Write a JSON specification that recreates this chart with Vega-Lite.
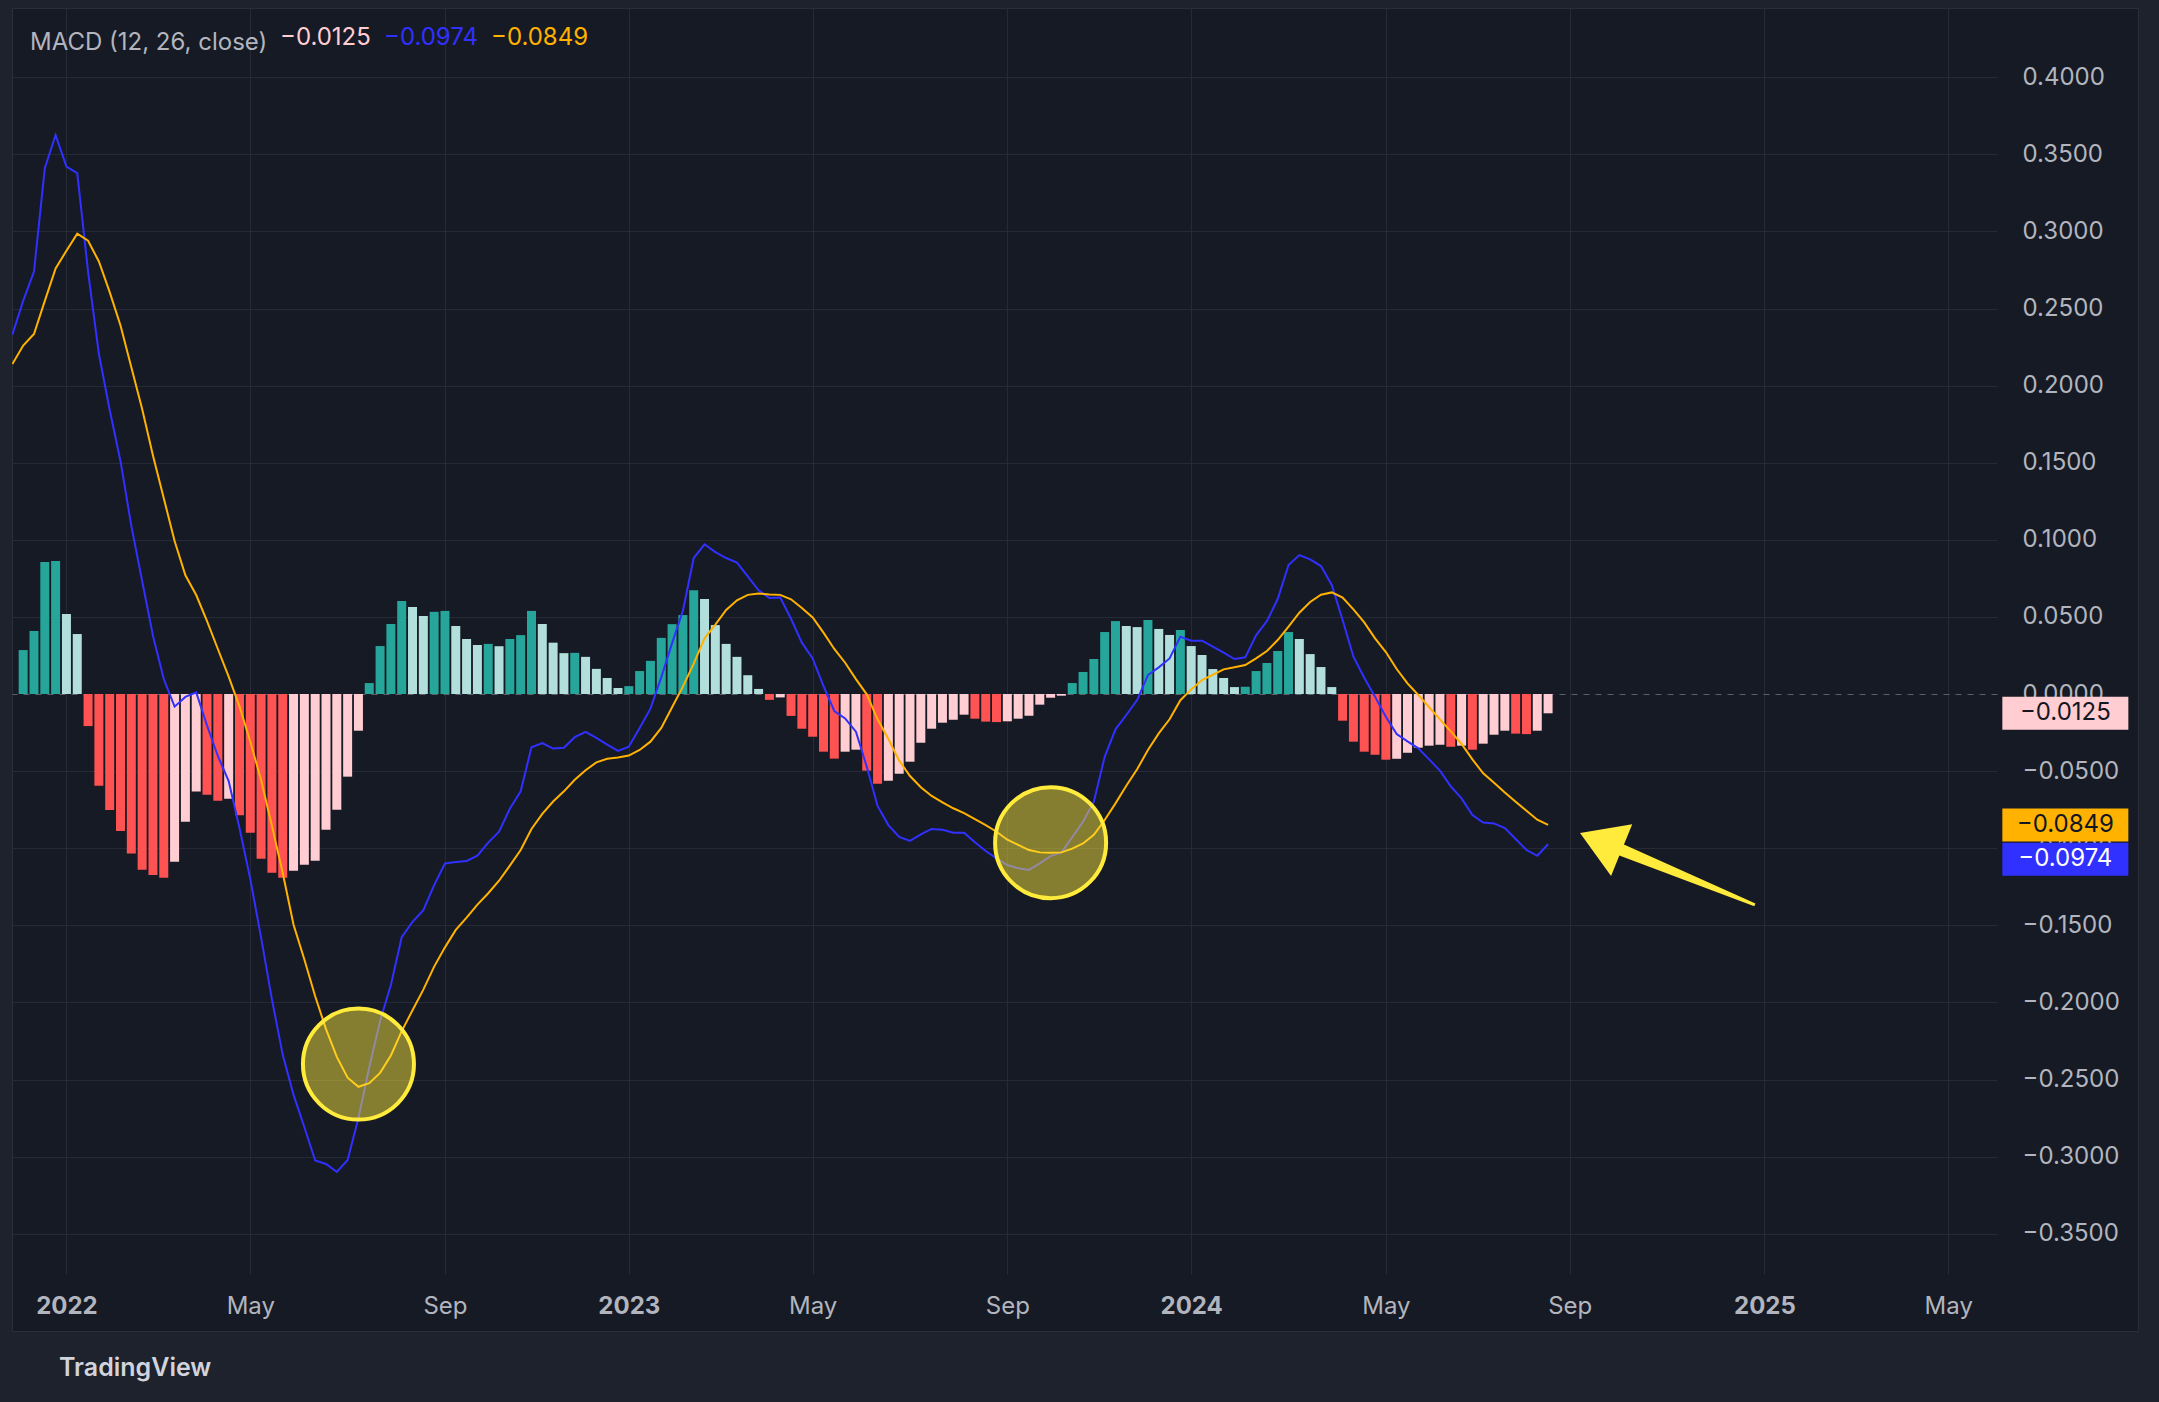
{
  "$schema": "https://vega.github.io/schema/vega-lite/v6.json",
  "width": 2126,
  "height": 1323,
  "autosize": {"type": "none"},
  "padding": {"left": 12, "top": 8, "right": 21, "bottom": 71},
  "background": "#1e222d",
  "config": {
    "view": {"fill": "#161a25", "stroke": "#2a2e39", "strokeWidth": 1},
    "font": "Inter"
  },
  "title": {
    "text": "TradingView",
    "orient": "bottom",
    "anchor": "start",
    "frame": "group",
    "offset": 25,
    "dx": 47,
    "font": "Inter",
    "fontSize": 25,
    "fontWeight": 600,
    "color": "#d1d4dc"
  },
  "data": {
    "values": [
      {"date": "2021-11-29", "hist": null, "macd": 0.233, "signal": 0.214},
      {"date": "2021-12-06", "hist": 0.0285, "macd": 0.255, "signal": 0.226},
      {"date": "2021-12-13", "hist": 0.0409, "macd": 0.274, "signal": 0.2335},
      {"date": "2021-12-20", "hist": 0.0856, "macd": 0.341, "signal": 0.255},
      {"date": "2021-12-27", "hist": 0.0862, "macd": 0.3625, "signal": 0.276},
      {"date": "2022-01-03", "hist": 0.0519, "macd": 0.342, "signal": 0.2875},
      {"date": "2022-01-10", "hist": 0.0389, "macd": 0.3378, "signal": 0.2985},
      {"date": "2022-01-17", "hist": -0.0208, "macd": 0.274, "signal": 0.294},
      {"date": "2022-01-24", "hist": -0.0595, "macd": 0.2205, "signal": 0.2805},
      {"date": "2022-01-31", "hist": -0.0752, "macd": 0.1842, "signal": 0.2606},
      {"date": "2022-02-07", "hist": -0.0888, "macd": 0.151, "signal": 0.239},
      {"date": "2022-02-14", "hist": -0.1035, "macd": 0.109, "signal": 0.2119},
      {"date": "2022-02-21", "hist": -0.1139, "macd": 0.0733, "signal": 0.1849},
      {"date": "2022-02-28", "hist": -0.1174, "macd": 0.0378, "signal": 0.1547},
      {"date": "2022-03-07", "hist": -0.1191, "macd": 0.0097, "signal": 0.127},
      {"date": "2022-03-14", "hist": -0.1087, "macd": -0.0082, "signal": 0.0992},
      {"date": "2022-03-21", "hist": -0.0828, "macd": -0.0019, "signal": 0.077},
      {"date": "2022-03-28", "hist": -0.0633, "macd": 0.0011, "signal": 0.0642},
      {"date": "2022-04-04", "hist": -0.0653, "macd": -0.0204, "signal": 0.0473},
      {"date": "2022-04-11", "hist": -0.0692, "macd": -0.0402, "signal": 0.0292},
      {"date": "2022-04-18", "hist": -0.0679, "macd": -0.0564, "signal": 0.0113},
      {"date": "2022-04-25", "hist": -0.0787, "macd": -0.0869, "signal": -0.008},
      {"date": "2022-05-02", "hist": -0.0899, "macd": -0.12, "signal": -0.031},
      {"date": "2022-05-09", "hist": -0.1068, "macd": -0.158, "signal": -0.0558},
      {"date": "2022-05-16", "hist": -0.1159, "macd": -0.198, "signal": -0.0856},
      {"date": "2022-05-23", "hist": -0.1191, "macd": -0.234, "signal": -0.1161},
      {"date": "2022-05-30", "hist": -0.1146, "macd": -0.26, "signal": -0.1496},
      {"date": "2022-06-06", "hist": -0.1107, "macd": -0.281, "signal": -0.1722},
      {"date": "2022-06-13", "hist": -0.1081, "macd": -0.3025, "signal": -0.196},
      {"date": "2022-06-20", "hist": -0.088, "macd": -0.3048, "signal": -0.2173},
      {"date": "2022-06-27", "hist": -0.075, "macd": -0.31, "signal": -0.2353},
      {"date": "2022-07-04", "hist": -0.0536, "macd": -0.3022, "signal": -0.2488},
      {"date": "2022-07-11", "hist": -0.0238, "macd": -0.275, "signal": -0.2547},
      {"date": "2022-07-18", "hist": 0.0071, "macd": -0.242, "signal": -0.2524},
      {"date": "2022-07-25", "hist": 0.0311, "macd": -0.212, "signal": -0.2457},
      {"date": "2022-08-01", "hist": 0.0454, "macd": -0.1887, "signal": -0.2344},
      {"date": "2022-08-08", "hist": 0.0603, "macd": -0.1577, "signal": -0.2186},
      {"date": "2022-08-15", "hist": 0.0564, "macd": -0.1477, "signal": -0.2051},
      {"date": "2022-08-22", "hist": 0.0506, "macd": -0.1402, "signal": -0.1917},
      {"date": "2022-08-29", "hist": 0.0533, "macd": -0.1239, "signal": -0.1768},
      {"date": "2022-09-05", "hist": 0.0539, "macd": -0.1099, "signal": -0.1643},
      {"date": "2022-09-12", "hist": 0.0441, "macd": -0.109, "signal": -0.153},
      {"date": "2022-09-19", "hist": 0.0357, "macd": -0.1083, "signal": -0.145},
      {"date": "2022-09-26", "hist": 0.0318, "macd": -0.1048, "signal": -0.1366},
      {"date": "2022-10-03", "hist": 0.0325, "macd": -0.0964, "signal": -0.1292},
      {"date": "2022-10-10", "hist": 0.031, "macd": -0.0893, "signal": -0.1211},
      {"date": "2022-10-17", "hist": 0.0357, "macd": -0.0744, "signal": -0.1113},
      {"date": "2022-10-24", "hist": 0.0382, "macd": -0.0631, "signal": -0.1012},
      {"date": "2022-10-31", "hist": 0.0539, "macd": -0.0345, "signal": -0.0875},
      {"date": "2022-11-07", "hist": 0.0454, "macd": -0.0318, "signal": -0.0777},
      {"date": "2022-11-14", "hist": 0.0333, "macd": -0.0354, "signal": -0.0697},
      {"date": "2022-11-21", "hist": 0.0265, "macd": -0.0348, "signal": -0.0631},
      {"date": "2022-11-28", "hist": 0.0267, "macd": -0.028, "signal": -0.0556},
      {"date": "2022-12-05", "hist": 0.0241, "macd": -0.0246, "signal": -0.0494},
      {"date": "2022-12-12", "hist": 0.0163, "macd": -0.0285, "signal": -0.0443},
      {"date": "2022-12-19", "hist": 0.0104, "macd": -0.0328, "signal": -0.042},
      {"date": "2022-12-26", "hist": 0.0039, "macd": -0.0369, "signal": -0.0411},
      {"date": "2023-01-02", "hist": 0.0051, "macd": -0.0342, "signal": -0.0399},
      {"date": "2023-01-09", "hist": 0.0149, "macd": -0.022, "signal": -0.0363},
      {"date": "2023-01-16", "hist": 0.0215, "macd": -0.0095, "signal": -0.0309},
      {"date": "2023-01-23", "hist": 0.0364, "macd": 0.0108, "signal": -0.022},
      {"date": "2023-01-30", "hist": 0.0453, "macd": 0.033, "signal": -0.0086},
      {"date": "2023-02-06", "hist": 0.0512, "macd": 0.0539, "signal": 0.0048},
      {"date": "2023-02-13", "hist": 0.0673, "macd": 0.0882, "signal": 0.0197},
      {"date": "2023-02-20", "hist": 0.0617, "macd": 0.0971, "signal": 0.0361},
      {"date": "2023-02-27", "hist": 0.0447, "macd": 0.092, "signal": 0.045},
      {"date": "2023-03-06", "hist": 0.0325, "macd": 0.0882, "signal": 0.0545},
      {"date": "2023-03-13", "hist": 0.0241, "macd": 0.0852, "signal": 0.0608},
      {"date": "2023-03-20", "hist": 0.0122, "macd": 0.0763, "signal": 0.0643},
      {"date": "2023-03-27", "hist": 0.0033, "macd": 0.0673, "signal": 0.0652},
      {"date": "2023-04-03", "hist": -0.0038, "macd": 0.0623, "signal": 0.0646},
      {"date": "2023-04-10", "hist": -0.0022, "macd": 0.0626, "signal": 0.0643},
      {"date": "2023-04-17", "hist": -0.0142, "macd": 0.0488, "signal": 0.0614},
      {"date": "2023-04-24", "hist": -0.0225, "macd": 0.0333, "signal": 0.0558},
      {"date": "2023-05-01", "hist": -0.0277, "macd": 0.0231, "signal": 0.0497},
      {"date": "2023-05-08", "hist": -0.0374, "macd": 0.0052, "signal": 0.0398},
      {"date": "2023-05-15", "hist": -0.0419, "macd": -0.011, "signal": 0.0292},
      {"date": "2023-05-22", "hist": -0.0374, "macd": -0.0158, "signal": 0.0203},
      {"date": "2023-05-29", "hist": -0.0361, "macd": -0.0244, "signal": 0.0097},
      {"date": "2023-06-05", "hist": -0.0497, "macd": -0.0471, "signal": -0.0002},
      {"date": "2023-06-12", "hist": -0.0582, "macd": -0.0726, "signal": -0.0164},
      {"date": "2023-06-19", "hist": -0.0562, "macd": -0.085, "signal": -0.0292},
      {"date": "2023-06-26", "hist": -0.0517, "macd": -0.0927, "signal": -0.0432},
      {"date": "2023-07-03", "hist": -0.0439, "macd": -0.0953, "signal": -0.0532},
      {"date": "2023-07-10", "hist": -0.0316, "macd": -0.091, "signal": -0.0605},
      {"date": "2023-07-17", "hist": -0.0225, "macd": -0.0875, "signal": -0.0661},
      {"date": "2023-07-24", "hist": -0.0186, "macd": -0.088, "signal": -0.0702},
      {"date": "2023-07-31", "hist": -0.0167, "macd": -0.0899, "signal": -0.0741},
      {"date": "2023-08-07", "hist": -0.0134, "macd": -0.0899, "signal": -0.0772},
      {"date": "2023-08-14", "hist": -0.016, "macd": -0.0962, "signal": -0.0811},
      {"date": "2023-08-21", "hist": -0.0179, "macd": -0.1018, "signal": -0.085},
      {"date": "2023-08-28", "hist": -0.0182, "macd": -0.1066, "signal": -0.0893},
      {"date": "2023-09-04", "hist": -0.0177, "macd": -0.1109, "signal": -0.0945},
      {"date": "2023-09-11", "hist": -0.016, "macd": -0.113, "signal": -0.0979},
      {"date": "2023-09-18", "hist": -0.0141, "macd": -0.1141, "signal": -0.1012},
      {"date": "2023-09-25", "hist": -0.0069, "macd": -0.1098, "signal": -0.1027},
      {"date": "2023-10-02", "hist": -0.0024, "macd": -0.1051, "signal": -0.1029},
      {"date": "2023-10-09", "hist": -0.0011, "macd": -0.1027, "signal": -0.1027},
      {"date": "2023-10-16", "hist": 0.0071, "macd": -0.0929, "signal": -0.1003},
      {"date": "2023-10-23", "hist": 0.0143, "macd": -0.0828, "signal": -0.0969},
      {"date": "2023-10-30", "hist": 0.0227, "macd": -0.0698, "signal": -0.0913},
      {"date": "2023-11-06", "hist": 0.0402, "macd": -0.0407, "signal": -0.0817},
      {"date": "2023-11-13", "hist": 0.0473, "macd": -0.0229, "signal": -0.0709},
      {"date": "2023-11-20", "hist": 0.0441, "macd": -0.0136, "signal": -0.0595},
      {"date": "2023-11-27", "hist": 0.0434, "macd": -0.0039, "signal": -0.0488},
      {"date": "2023-12-04", "hist": 0.048, "macd": 0.0123, "signal": -0.0363},
      {"date": "2023-12-11", "hist": 0.0422, "macd": 0.0173, "signal": -0.0255},
      {"date": "2023-12-18", "hist": 0.0383, "macd": 0.0231, "signal": -0.0164},
      {"date": "2023-12-25", "hist": 0.0415, "macd": 0.0372, "signal": -0.004},
      {"date": "2024-01-01", "hist": 0.0311, "macd": 0.0346, "signal": 0.003},
      {"date": "2024-01-08", "hist": 0.0253, "macd": 0.0346, "signal": 0.0091},
      {"date": "2024-01-15", "hist": 0.0162, "macd": 0.0307, "signal": 0.0125},
      {"date": "2024-01-22", "hist": 0.0104, "macd": 0.0268, "signal": 0.016},
      {"date": "2024-01-29", "hist": 0.0045, "macd": 0.0227, "signal": 0.0173},
      {"date": "2024-02-05", "hist": 0.0047, "macd": 0.0238, "signal": 0.0188},
      {"date": "2024-02-12", "hist": 0.0149, "macd": 0.0381, "signal": 0.0231},
      {"date": "2024-02-19", "hist": 0.0201, "macd": 0.0473, "signal": 0.0279},
      {"date": "2024-02-26", "hist": 0.0279, "macd": 0.0616, "signal": 0.035},
      {"date": "2024-03-04", "hist": 0.0402, "macd": 0.0837, "signal": 0.0437},
      {"date": "2024-03-11", "hist": 0.0357, "macd": 0.0901, "signal": 0.0527},
      {"date": "2024-03-18", "hist": 0.0259, "macd": 0.0873, "signal": 0.0597},
      {"date": "2024-03-25", "hist": 0.0175, "macd": 0.083, "signal": 0.0644},
      {"date": "2024-04-01", "hist": 0.0045, "macd": 0.0707, "signal": 0.0659},
      {"date": "2024-04-08", "hist": -0.0173, "macd": 0.048, "signal": 0.0625},
      {"date": "2024-04-15", "hist": -0.0309, "macd": 0.0242, "signal": 0.0549},
      {"date": "2024-04-22", "hist": -0.0374, "macd": 0.0106, "signal": 0.0465},
      {"date": "2024-04-29", "hist": -0.0394, "macd": -0.0017, "signal": 0.0361},
      {"date": "2024-05-06", "hist": -0.0426, "macd": -0.0147, "signal": 0.0272},
      {"date": "2024-05-13", "hist": -0.042, "macd": -0.0259, "signal": 0.0162},
      {"date": "2024-05-20", "hist": -0.0381, "macd": -0.0307, "signal": 0.0069},
      {"date": "2024-05-27", "hist": -0.0348, "macd": -0.0352, "signal": -0.0006},
      {"date": "2024-06-03", "hist": -0.0335, "macd": -0.0424, "signal": -0.0086},
      {"date": "2024-06-10", "hist": -0.0329, "macd": -0.0497, "signal": -0.0164},
      {"date": "2024-06-17", "hist": -0.0342, "macd": -0.0599, "signal": -0.0242},
      {"date": "2024-06-24", "hist": -0.0335, "macd": -0.0677, "signal": -0.0324},
      {"date": "2024-07-01", "hist": -0.0361, "macd": -0.0785, "signal": -0.0424},
      {"date": "2024-07-08", "hist": -0.0322, "macd": -0.0834, "signal": -0.0514},
      {"date": "2024-07-15", "hist": -0.0264, "macd": -0.0839, "signal": -0.0575},
      {"date": "2024-07-22", "hist": -0.0238, "macd": -0.0869, "signal": -0.0638},
      {"date": "2024-07-29", "hist": -0.0257, "macd": -0.094, "signal": -0.0698},
      {"date": "2024-08-05", "hist": -0.026, "macd": -0.1012, "signal": -0.0757},
      {"date": "2024-08-12", "hist": -0.0238, "macd": -0.1049, "signal": -0.0815},
      {"date": "2024-08-19", "hist": -0.0125, "macd": -0.0974, "signal": -0.0849}
    ],
    "format": {"parse": {"date": "date:'%Y-%m-%d'"}}
  },
  "layer": [
    {
      "transform": [
        {"window": [{"op": "lag", "field": "hist", "as": "prev"}], "sort": [{"field": "date", "order": "ascending"}]},
        {"filter": "isValid(datum.hist)"}
      ],
      "mark": {"type": "bar", "width": 9},
      "encoding": {
        "x": {
          "field": "date", "type": "temporal",
          "scale": {"domain": [{"year": 2021, "month": 12, "date": 2}, {"year": 2025, "month": 9, "date": 1, "hours": 14}]},
          "axis": {
            "orient": "bottom", "offset": -57, "title": null, "zindex": 0,
            "values": [
              {"year": 2022, "month": 1, "date": 3}, {"year": 2022, "month": 5, "date": 2}, {"year": 2022, "month": 9, "date": 5},
              {"year": 2023, "month": 1, "date": 2}, {"year": 2023, "month": 5, "date": 1}, {"year": 2023, "month": 9, "date": 4},
              {"year": 2024, "month": 1, "date": 1}, {"year": 2024, "month": 5, "date": 6}, {"year": 2024, "month": 9, "date": 2},
              {"year": 2025, "month": 1, "date": 6}, {"year": 2025, "month": 5, "date": 5}
            ],
            "labelExpr": "month(datum.value) == 0 ? timeFormat(datum.value, '%Y') : timeFormat(datum.value, '%b')",
            "grid": false, "domain": false,
            "ticks": true, "tickSize": -1266, "tickColor": "#262a36", "tickWidth": 1,
            "labelPadding": 1298, "labelBaseline": "middle", "labelAlign": "center",
            "labelFont": "Inter", "labelFontSize": 24, "labelColor": "#b2b5be",
            "labelFontWeight": {"condition": {"test": "month(datum.value) == 0", "value": "bold"}, "value": "normal"},
            "labelFlush": false, "labelOverlap": false
          }
        },
        "y": {
          "field": "hist", "type": "quantitative",
          "scale": {"domain": [-0.4131, 0.4449], "nice": false, "zero": false},
          "axis": {
            "orient": "right", "offset": -141, "title": null, "zindex": 0,
            "values": [-0.35, -0.3, -0.25, -0.2, -0.15, -0.1, -0.05, 0, 0.05, 0.1, 0.15, 0.2, 0.25, 0.3, 0.35, 0.4],
            "format": ".4f",
            "grid": false, "domain": false,
            "ticks": true, "tickSize": -1985, "tickWidth": 1,
            "tickColor": {"condition": {"test": "datum.value == 0", "value": "#5d606b"}, "value": "#262a36"},
            "tickDash": {"condition": {"test": "datum.value == 0", "value": [6, 6]}, "value": []},
            "labelPadding": 2010, "labelAlign": "left", "labelBaseline": "middle",
            "labelFont": "Inter", "labelFontSize": 24, "labelColor": "#b2b5be",
            "labelFlush": false, "labelOverlap": false
          }
        },
        "color": {
          "condition": [
            {"test": "datum.hist >= 0 && !(datum.prev > datum.hist)", "value": "#26a69a"},
            {"test": "datum.hist >= 0", "value": "#b2dfdb"},
            {"test": "datum.prev > datum.hist", "value": "#ff5252"}
          ],
          "value": "#ffcdd2"
        }
      }
    },
    {
      "mark": {"type": "line", "color": "#3030ff", "strokeWidth": 2, "clip": true},
      "encoding": {
        "x": {"field": "date", "type": "temporal", "scale": {"domain": [{"year": 2021, "month": 12, "date": 2}, {"year": 2025, "month": 9, "date": 1, "hours": 14}]}, "axis": {"title": null}},
        "y": {"field": "macd", "type": "quantitative", "scale": {"domain": [-0.4131, 0.4449], "nice": false, "zero": false}, "axis": {"title": null}}
      }
    },
    {
      "mark": {"type": "line", "color": "#ffb200", "strokeWidth": 2, "clip": true},
      "encoding": {
        "x": {"field": "date", "type": "temporal", "scale": {"domain": [{"year": 2021, "month": 12, "date": 2}, {"year": 2025, "month": 9, "date": 1, "hours": 14}]}, "axis": {"title": null}},
        "y": {"field": "signal", "type": "quantitative", "scale": {"domain": [-0.4131, 0.4449], "nice": false, "zero": false}, "axis": {"title": null}}
      }
    },
    {
      "data": {
        "values": [{"date": "2022-07-11", "value": -0.24}, {"date": "2023-10-02", "value": -0.0964}],
        "format": {"parse": {"date": "date:'%Y-%m-%d'"}}
      },
      "mark": {"type": "point", "shape": "circle", "size": 12321, "fill": "#ffeb3b", "fillOpacity": 0.48, "stroke": "#ffeb3b", "strokeWidth": 4, "strokeOpacity": 1, "opacity": 1},
      "encoding": {
        "x": {"field": "date", "type": "temporal", "scale": {"domain": [{"year": 2021, "month": 12, "date": 2}, {"year": 2025, "month": 9, "date": 1, "hours": 14}]}, "axis": {"title": null}},
        "y": {"field": "value", "type": "quantitative", "scale": {"domain": [-0.4131, 0.4449], "nice": false, "zero": false}, "axis": {"title": null}}
      }
    },
    {
      "data": {
        "values": [{"date": "2024-11-04", "value": -0.1115}],
        "format": {"parse": {"date": "date:'%Y-%m-%d'"}}
      },
      "mark": {"type": "point", "shape": "M-0.967,-0.367L-0.387,-0.464L-0.479,-0.239L0.982,0.416L0.969,0.447L-0.53,-0.116L-0.622,0.111Z", "size": 32400, "filled": true, "color": "#ffeb3b", "fill": "#ffeb3b", "strokeWidth": 0, "opacity": 1},
      "encoding": {
        "x": {"field": "date", "type": "temporal", "scale": {"domain": [{"year": 2021, "month": 12, "date": 2}, {"year": 2025, "month": 9, "date": 1, "hours": 14}]}, "axis": {"title": null}},
        "y": {"field": "value", "type": "quantitative", "scale": {"domain": [-0.4131, 0.4449], "nice": false, "zero": false}, "axis": {"title": null}}
      }
    },
    {
      "transform": [
        {"window": [{"op": "row_number", "as": "rn"}], "sort": [{"field": "date", "order": "descending"}]},
        {"filter": "datum.rn == 1"},
        {"fold": ["hist", "macd", "signal"], "as": ["key", "value"]},
        {"filter": "datum.key != 'macd'"}
      ],
      "mark": {"type": "point", "shape": "M-1,-0.262L1,-0.262L1,0.262L-1,0.262Z", "size": 15876, "filled": true, "strokeWidth": 0, "opacity": 1},
      "encoding": {
        "x": {"datum": {"year": 2025, "month": 7, "date": 19, "hours": 19}, "type": "temporal", "scale": {"domain": [{"year": 2021, "month": 12, "date": 2}, {"year": 2025, "month": 9, "date": 1, "hours": 14}]}, "axis": {"title": null}},
        "y": {"field": "value", "type": "quantitative", "scale": {"domain": [-0.4131, 0.4449], "nice": false, "zero": false}, "axis": {"title": null}},
        "color": {
          "field": "key", "type": "nominal",
          "scale": {"domain": ["hist", "macd", "signal"], "range": ["#ffcdd2", "#3030ff", "#ffb200"]},
          "legend": {
            "orient": "none", "legendX": 18, "legendY": 3, "direction": "horizontal", "padding": 0,
            "title": "MACD (12, 26, close)", "titleOrient": "left", "titleColor": "#b2b5be", "titleLimit": 600,
            "titleFont": "Inter", "titleFontSize": 24, "titleFontWeight": "normal", "titlePadding": -12, "titleBaseline": "top",
            "labelFont": "Inter", "labelFontSize": 24, "labelBaseline": "top", "labelOffset": 0, "labelLimit": 300,
            "labelExpr": "datum.label == 'hist' ? '−0.0125' : datum.label == 'macd' ? '−0.0974' : '−0.0849'",
            "symbolSize": 0, "symbolOpacity": 0, "symbolStrokeWidth": 0, "columnPadding": 0,
            "encode": {"labels": {"update": {"fill": {"scale": "color", "field": "value"}, "dy": {"value": 3}, "dx": {"signal": "datum.index > 0 ? -11 : 0"}}}}
          }
        }
      }
    },
    {
      "transform": [
        {"window": [{"op": "row_number", "as": "rn"}], "sort": [{"field": "date", "order": "descending"}]},
        {"filter": "datum.rn == 1"},
        {"fold": ["hist", "macd", "signal"], "as": ["key", "value"]},
        {"filter": "datum.key == 'macd'"}
      ],
      "mark": {"type": "point", "shape": "M-1,-0.262L1,-0.262L1,0.262L-1,0.262Z", "size": 15876, "filled": true, "strokeWidth": 0, "opacity": 1, "yOffset": 15},
      "encoding": {
        "x": {"datum": {"year": 2025, "month": 7, "date": 19, "hours": 19}, "type": "temporal", "scale": {"domain": [{"year": 2021, "month": 12, "date": 2}, {"year": 2025, "month": 9, "date": 1, "hours": 14}]}, "axis": {"title": null}},
        "y": {"field": "value", "type": "quantitative", "scale": {"domain": [-0.4131, 0.4449], "nice": false, "zero": false}, "axis": {"title": null}},
        "color": {"field": "key", "type": "nominal", "scale": {"domain": ["hist", "macd", "signal"], "range": ["#ffcdd2", "#3030ff", "#ffb200"]}}
      }
    },
    {
      "transform": [
        {"window": [{"op": "row_number", "as": "rn"}], "sort": [{"field": "date", "order": "descending"}]},
        {"filter": "datum.rn == 1"},
        {"fold": ["hist", "macd", "signal"], "as": ["key", "value"]},
        {"filter": "datum.key != 'macd'"}
      ],
      "mark": {"type": "text", "align": "center", "baseline": "middle", "font": "Inter", "fontSize": 24, "color": "#131722"},
      "encoding": {
        "x": {"datum": {"year": 2025, "month": 7, "date": 19, "hours": 19}, "type": "temporal", "scale": {"domain": [{"year": 2021, "month": 12, "date": 2}, {"year": 2025, "month": 9, "date": 1, "hours": 14}]}, "axis": {"title": null}},
        "y": {"field": "value", "type": "quantitative", "scale": {"domain": [-0.4131, 0.4449], "nice": false, "zero": false}, "axis": {"title": null}},
        "text": {"field": "value", "type": "quantitative", "format": ".4f"}
      }
    },
    {
      "transform": [
        {"window": [{"op": "row_number", "as": "rn"}], "sort": [{"field": "date", "order": "descending"}]},
        {"filter": "datum.rn == 1"},
        {"fold": ["hist", "macd", "signal"], "as": ["key", "value"]},
        {"filter": "datum.key == 'macd'"}
      ],
      "mark": {"type": "text", "align": "center", "baseline": "middle", "font": "Inter", "fontSize": 24, "dy": 15, "color": "#ffffff"},
      "encoding": {
        "x": {"datum": {"year": 2025, "month": 7, "date": 19, "hours": 19}, "type": "temporal", "scale": {"domain": [{"year": 2021, "month": 12, "date": 2}, {"year": 2025, "month": 9, "date": 1, "hours": 14}]}, "axis": {"title": null}},
        "y": {"field": "value", "type": "quantitative", "scale": {"domain": [-0.4131, 0.4449], "nice": false, "zero": false}, "axis": {"title": null}},
        "text": {"field": "value", "type": "quantitative", "format": ".4f"}
      }
    }
  ]
}
